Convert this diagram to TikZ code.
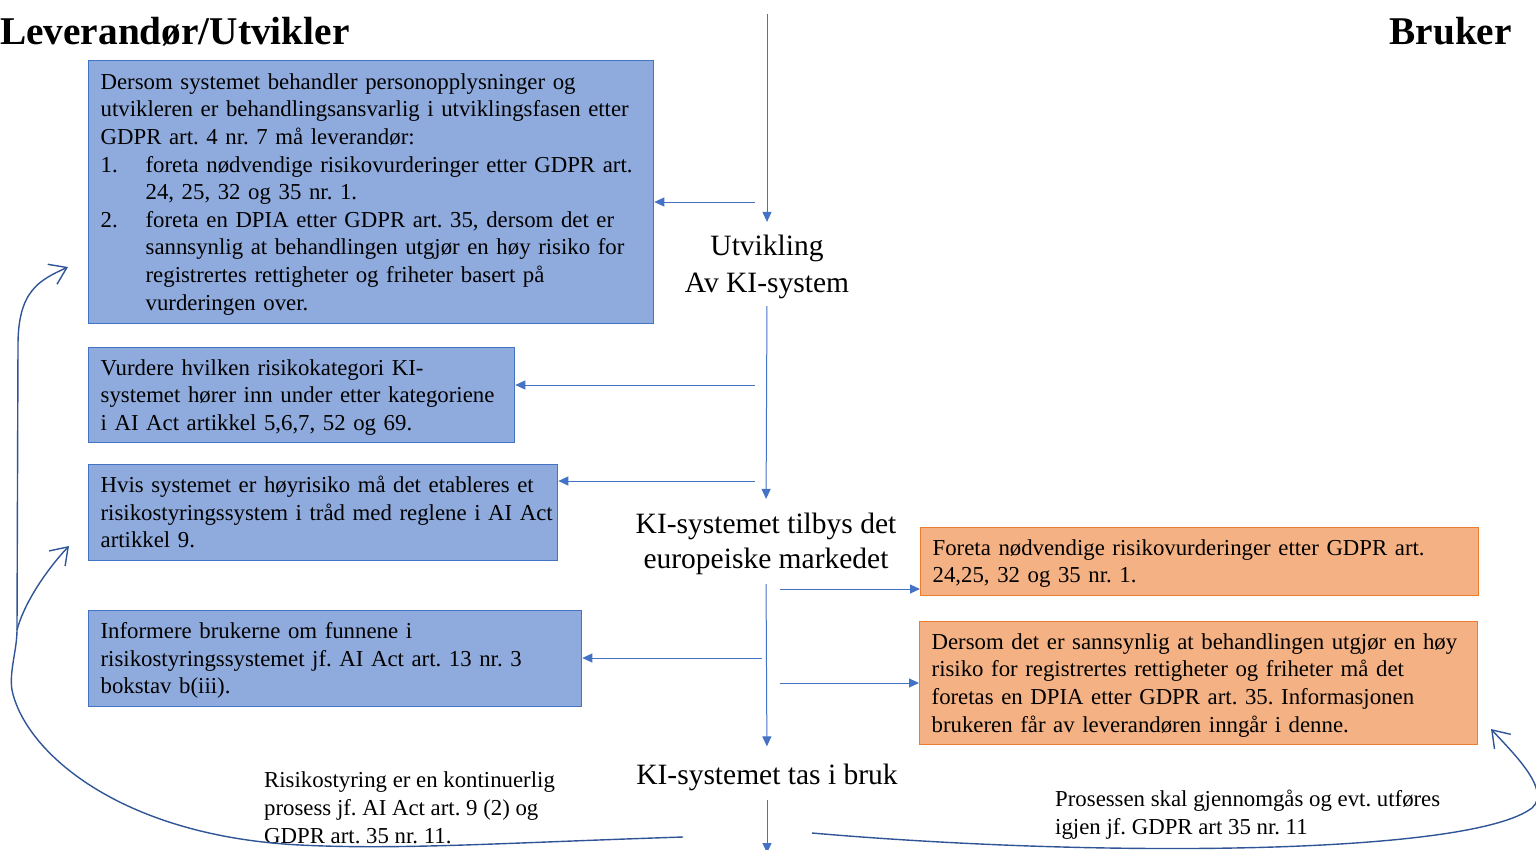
\documentclass[tikz,border=0pt]{standalone}
\usepackage{fontspec}
\setmainfont{Liberation Serif}
\usetikzlibrary{arrows.meta}
\definecolor{bluefill}{HTML}{8FAADC}
\definecolor{blueline}{HTML}{4472C4}
\definecolor{orfill}{HTML}{F4B183}
\definecolor{orline}{HTML}{ED7D31}
\definecolor{curvecol}{HTML}{2F5597}
\frenchspacing
\newcommand\mylines[1]{\raisebox{-2pt}[\height][\depth]{\begin{tabular}{@{}l@{}}#1\end{tabular}}}
\begin{document}
\begin{tikzpicture}[x=1pt,y=-1pt,
  bbox/.style={draw=blueline,fill=bluefill,line width=1.3pt,anchor=north west,align=left,
    inner xsep=12pt,inner ysep=0pt,font=\fontsize{22.8}{27.6}\selectfont},
  obox/.style={bbox,draw=orline,fill=orfill},
  stage/.style={align=center,inner sep=0pt},
  note/.style={align=left,anchor=west,inner sep=0pt,font=\fontsize{22.8}{27.6}\selectfont},
  titletext/.style={font=\fontsize{39.3}{44}\selectfont\bfseries,inner sep=0pt},
  flow/.style={draw=blueline,line width=1pt,-{Triangle[length=10pt,width=9pt]}},
  loopline/.style={draw=curvecol,line width=1.4pt},
  loop/.style={loopline,-{Straight Barb[length=16pt,width=22pt]}}
]
\useasboundingbox (0,0) rectangle (1536,849);

% titles
\node[titletext,anchor=base west] (tl) at (0,44) {Leverandør/Utvikler};
\node[titletext,anchor=base east] (tr) at (1512,44) {Bruker};

% stages
\node[stage,font=\fontsize{29.5}{37}\selectfont] (dev) at (767,267) {Utvikling\\Av KI-system};
\node[stage,font=\fontsize{29.5}{35}\selectfont] (market) at (766,544) {KI-systemet tilbys det\\europeiske markedet};
\node[stage,font=\fontsize{29.5}{35}\selectfont] (use) at (767,777) {KI-systemet tas i bruk};
\coordinate (top) at (767,14);
\coordinate (bot) at (767,853);

% blue boxes
\node[bbox,text width=541pt,minimum height=263pt] (b1) at (88,60) {\mylines{%
Dersom systemet behandler personopplysninger og\\
utvikleren er behandlingsansvarlig i utviklingsfasen etter\\
GDPR art. 4 nr. 7 må leverandør:\\
\makebox[45pt][l]{1.}foreta nødvendige risikovurderinger etter GDPR art.\\
\hspace*{45pt}24, 25, 32 og 35 nr. 1.\\
\makebox[45pt][l]{2.}foreta en DPIA etter GDPR art. 35, dersom det er\\
\hspace*{45pt}sannsynlig at behandlingen utgjør en høy risiko for\\
\hspace*{45pt}registrertes rettigheter og friheter basert på\\
\hspace*{45pt}vurderingen over.}};
\node[bbox,text width=402pt,minimum height=95pt] (b2) at (88,347) {\mylines{%
Vurdere hvilken risikokategori KI-\\
systemet hører inn under etter kategoriene\\
i AI Act artikkel 5,6,7, 52 og 69.}};
\node[bbox,text width=445pt,minimum height=96pt] (b3) at (88,464) {\mylines{%
Hvis systemet er høyrisiko må det etableres et\\
risikostyringssystem i tråd med reglene i AI Act\\
artikkel 9.}};
\node[bbox,text width=469pt,minimum height=96pt] (b4) at (88,610) {\mylines{%
Informere brukerne om funnene i\\
risikostyringssystemet jf. AI Act art. 13 nr. 3\\
bokstav b(iii).}};

% orange boxes
\node[obox,text width=534pt,minimum height=68pt] (o1) at (920,527) {\mylines{%
Foreta nødvendige risikovurderinger etter GDPR art.\\
24,25, 32 og 35 nr. 1.}};
\node[obox,text width=534pt,minimum height=123pt] (o2) at (919,621) {\mylines{%
Dersom det er sannsynlig at behandlingen utgjør en høy\\
risiko for registrertes rettigheter og friheter må det\\
foretas en DPIA etter GDPR art. 35. Informasjonen\\
brukeren får av leverandøren inngår i denne.}};

% notes
\node[note] (n1) at (264,808) {\mylines{%
Risikostyring er en kontinuerlig\\
prosess jf. AI Act art. 9 (2) og\\
GDPR art. 35 nr. 11.}};
\node[note] (n2) at (1055,813) {\mylines{%
Prosessen skal gjennomgås og evt. utføres\\
igjen jf. GDPR art 35 nr. 11}};

% main flow
\draw[flow,shorten >=13pt] (top) -- (dev.north);
\draw[flow,shorten <=7pt,shorten >=14pt] (dev.south) -- (market.north);
\draw[flow,shorten <=9pt,shorten >=17pt] (market.south) -- (use.north);
\draw[flow,shorten <=9pt] (use.south) -- (bot);

% side arrows
\coordinate (h1) at (755,202);
\coordinate (h2) at (755,385);
\coordinate (h3) at (755,481);
\coordinate (h4) at (762,658);
\coordinate (r1) at (780,589);
\coordinate (r2) at (780,683);
\draw[flow] (h1) -- (b1.east |- h1);
\draw[flow] (h2) -- (b2.east |- h2);
\draw[flow] (h3) -- (b3.east |- h3);
\draw[flow] (h4) -- (b4.east |- h4);
\draw[flow] (r1) -- (o1.west |- r1);
\draw[flow] (r2) -- (o2.west |- r2);

% feedback loops
\coordinate (lstart) at (683,837);
\coordinate (lmid) at (300,845);
\coordinate (fork) at (17,630);
\coordinate (tipA) at (68,267);
\coordinate (tipB) at (69,546);
\draw[loop] (lstart) .. controls (500,843) and (400,850) .. (lmid)
  .. controls (120,836) and (25,752) .. (12,690)
  .. controls (9,672) and (17,650) .. (fork)
  -- (18,345) .. controls (18,290) and (40,280) .. (tipA);
\draw[loop] (fork) .. controls (25,600) and (50,566) .. (tipB);

\coordinate (rstart) at (812,833);
\coordinate (rtip) at (1491,729);
\draw[loop] (rstart) .. controls (1100,858) and (1470,855) .. (1532,808)
  .. controls (1552,790) and (1512,752) .. (rtip);
\end{tikzpicture}
\end{document}
